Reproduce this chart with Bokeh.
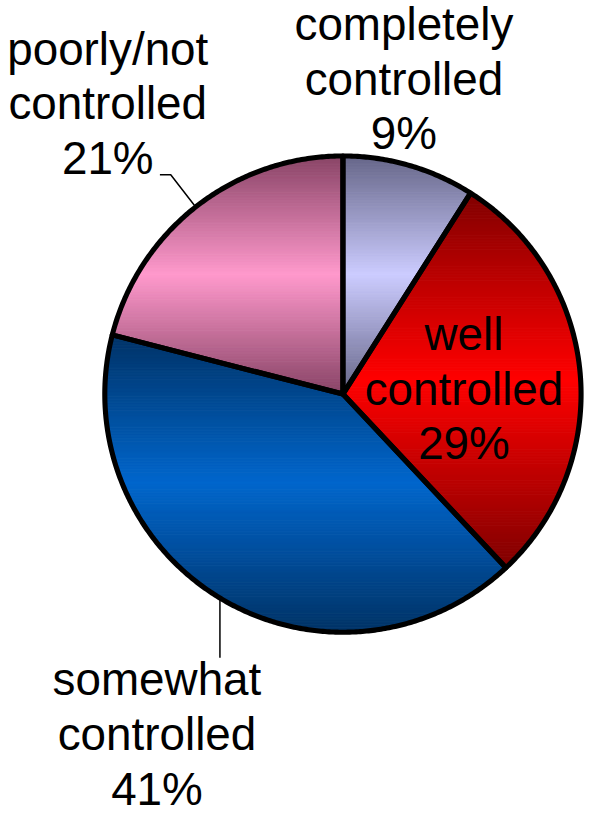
import math
from bokeh.plotting import figure
from bokeh.models import Range1d
from bokeh.embed import file_html
from bokeh.resources import INLINE
from bokeh.core.properties import value

# ---------------- data ----------------
categories = ["completely controlled", "well controlled", "somewhat controlled", "poorly/not controlled"]
shares = [9, 29, 41, 21]
label_words = [["completely", "controlled"], ["well", "controlled"],
               ["somewhat", "controlled"], ["poorly/not", "controlled"]]
light_colors = ["#ccccff", "#ff0000", "#0066cc", "#ff99cc"]
dark_colors = ["#666688", "#800000", "#003366", "#884466"]

# ---------------- layout (pixel-like data units, y grows downward) ----------------
S = 0.984                      # uniform scale so the drawing fits the page
W, H = 584, 816
CX, CY, R = 348.0, 400.0, 242.0
FONT_PX = 46.5
BASELINE_FIX = 17.5            # compensation for the renderer's alphabetic baseline
label_anchor = [(410, 42), (471, 357), (159, 708), (109, 67)]
line_step = 55.5
leaders = [None, None, ([223, 223], [607, 668]), ([162, 173, 197], [177, 177, 208])]

p = figure(width=W, height=H, output_backend="svg", toolbar_location=None,
           x_range=Range1d(0, W / S), y_range=Range1d(H / S, 0),
           min_border=0, min_border_left=0, min_border_right=0,
           min_border_top=0, min_border_bottom=0)
p.axis.visible = False
p.grid.visible = False
p.outline_line_color = None
p.background_fill_color = "white"
p.border_fill_color = "white"


def hex2rgb(h):
    h = h.lstrip("#")
    return tuple(int(h[i:i + 2], 16) for i in (0, 2, 4))


def lerp_color(c1, c2, t):
    a, b = hex2rgb(c1), hex2rgb(c2)
    return "#%02x%02x%02x" % tuple(int(round(a[i] + (b[i] - a[i]) * t)) for i in range(3))


def clip_half(poly, inside, inter):
    out = []
    n = len(poly)
    for i in range(n):
        cur, prev = poly[i], poly[i - 1]
        ci, pi = inside(cur), inside(prev)
        if ci:
            if not pi:
                out.append(inter(prev, cur))
            out.append(cur)
        elif pi:
            out.append(inter(prev, cur))
    return out


def clip_band(poly, y0, y1):
    def ix(yc):
        def f(a, b):
            t = (yc - a[1]) / (b[1] - a[1])
            return (a[0] + t * (b[0] - a[0]), yc)
        return f
    poly = clip_half(poly, lambda q: q[1] >= y0, ix(y0))
    if not poly:
        return poly
    poly = clip_half(poly, lambda q: q[1] <= y1, ix(y1))
    return poly


total = float(sum(shares))
start = 0.0
slice_polys = []
for k, s in enumerate(shares):
    end = start + 360.0 * s / total
    n = max(4, int((end - start) / 0.5))
    pts = [(CX, CY)]
    for i in range(n + 1):
        th = math.radians(start + (end - start) * i / n)
        pts.append((CX + R * math.sin(th), CY - R * math.cos(th)))
    slice_polys.append(pts)
    start = end

# gradient bands (vertical gradient: dark at the slice's top/bottom, light in the middle)
bx, by, bc = [], [], []
for k, poly in enumerate(slice_polys):
    ys = [q[1] for q in poly]
    ymin, ymax = min(ys), max(ys)
    mid = 0.5 * (ymin + ymax)
    half = 0.5 * (ymax - ymin)
    step = 1.5
    y0 = ymin
    while y0 < ymax:
        y1 = min(ymax, y0 + step)
        band = clip_band(poly, y0, y1)
        if len(band) >= 3:
            t = min(1.0, abs(0.5 * (y0 + y1) - mid) / half)
            bx.append([q[0] for q in band])
            by.append([q[1] for q in band])
            bc.append(lerp_color(light_colors[k], dark_colors[k], t))
        y0 = y1

p.patches(xs=bx, ys=by, fill_color=bc, line_color=bc, line_width=1)

# slice outlines
p.patches(xs=[[q[0] for q in poly] for poly in slice_polys],
          ys=[[q[1] for q in poly] for poly in slice_polys],
          fill_alpha=0, line_color="black", line_width=5.2 * S, line_join="round")

# leader lines
for ld in leaders:
    if ld is not None:
        p.line(x=ld[0], y=ld[1], line_color="black", line_width=1.5)

# labels
tx, ty, tt = [], [], []
for k, words in enumerate(label_words):
    lines = words + ["%d%%" % shares[k]]
    ax, ay = label_anchor[k]
    for i, ln in enumerate(lines):
        tx.append(ax)
        ty.append(ay + i * line_step - BASELINE_FIX)
        tt.append(ln)

p.text(x=tx, y=ty, text=tt, text_font=value("Liberation Sans"),
       text_font_size="%.1fpx" % (FONT_PX * S),
       text_align="center", text_baseline="alphabetic", text_color="black")

open("out.html", "w").write(file_html(p, INLINE))
